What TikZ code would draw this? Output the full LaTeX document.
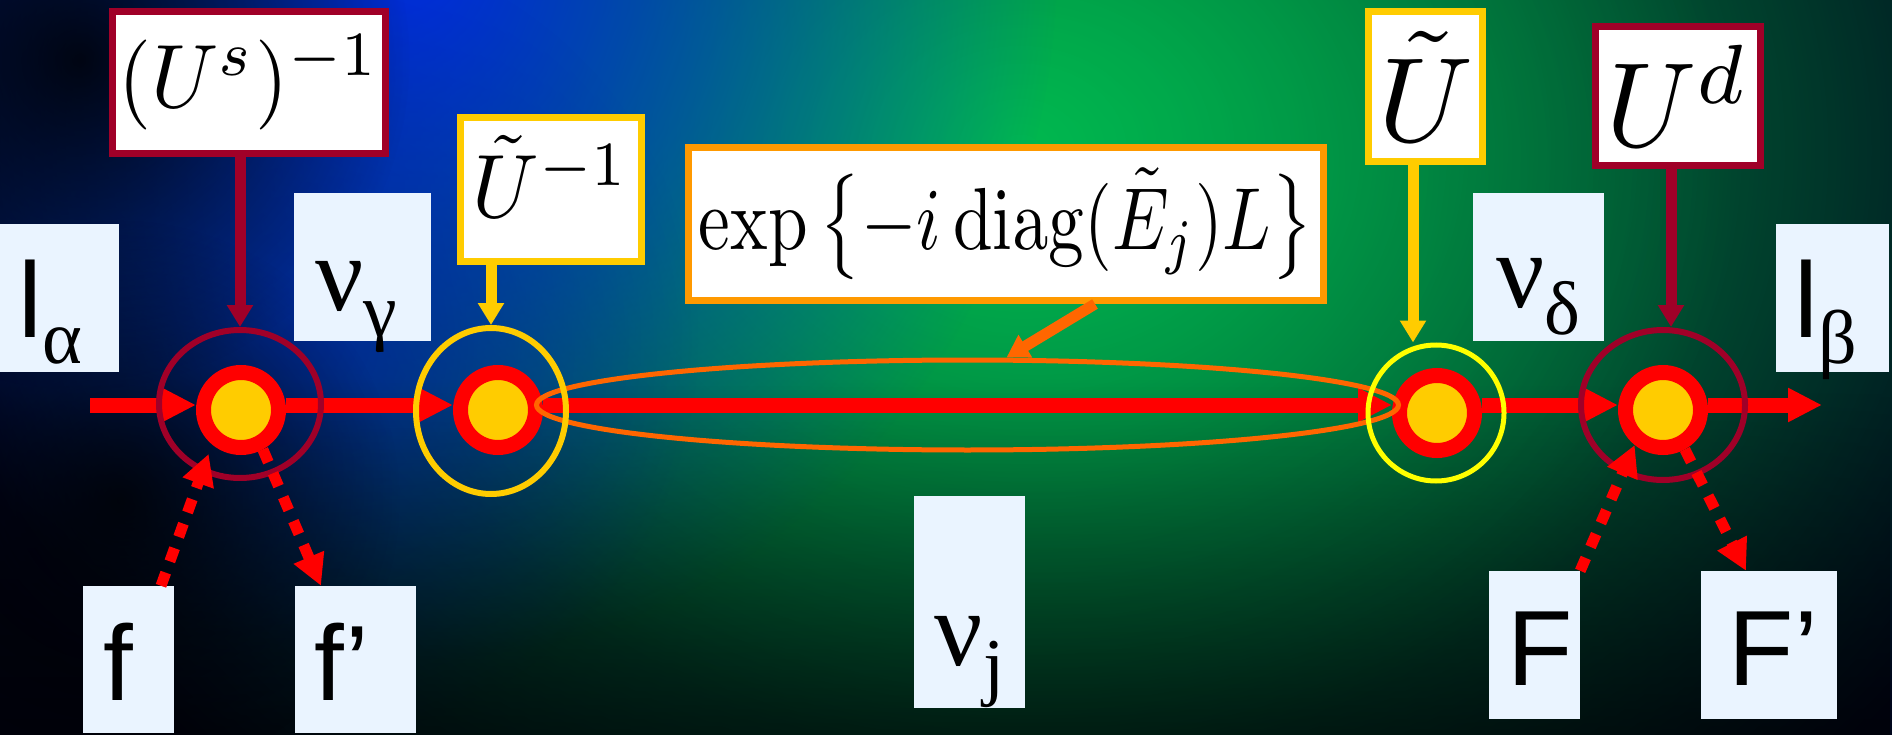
\documentclass[tikz,border=0pt]{standalone}
\usepackage[no-math]{fontspec}
\usepackage{graphicx}
\usepackage{tikz}
\usetikzlibrary{arrows.meta, shapes.geometric, positioning, fadings}

\newfontfamily\labsans{Liberation Sans}
\newfontfamily\labgreek{Liberation Serif}
\newcommand\lowsub[1]{\raisebox{-26pt}{\fontsize{76}{76}\selectfont\labgreek #1}}

\definecolor{wine}{RGB}{160,0,40}
\definecolor{amber}{RGB}{255,204,0}
\definecolor{lemon}{RGB}{255,255,0}
\definecolor{tangerine}{RGB}{255,153,0}
\definecolor{ember}{RGB}{255,102,0}
\definecolor{paleblue}{RGB}{234,244,255}
\definecolor{night}{RGB}{0,6,28}
\definecolor{glowblue}{RGB}{0,45,225}
\definecolor{deepblue}{RGB}{0,30,170}
\definecolor{glowgreen}{RGB}{0,185,80}

\tikzfading[name=glow, inner color=transparent!0, outer color=transparent!100]
\pgfdeclarelayer{backdrop}
\pgfdeclarelayer{beam}
\pgfsetlayers{backdrop,beam,main}

\begin{document}
\begin{tikzpicture}[x=1pt, y=-1pt,
    tag/.style={fill=paleblue, inner sep=0pt, font=\fontsize{107}{110}\selectfont},
    mbox/.style={rectangle, draw=#1, fill=white, line width=7pt, inner sep=0pt},
    hoop/.style={ellipse, draw=#1, line width=6pt, inner sep=0pt},
    dot/.style={circle, draw=red, fill=amber, line width=15pt, minimum size=75pt, inner sep=0pt},
    flow/.style={red, line width=15pt, -{Triangle[width=32pt,length=34pt]}},
    feed/.style={#1, line width=11pt, -{Triangle[width=25pt,length=22pt]}},
    side/.style={red, line width=11pt, dash pattern=on 14pt off 12pt, -{Triangle[width=31pt,length=31pt]}}
]
\useasboundingbox (0,0) rectangle (1892,735);

% Backdrop: dark field with green and blue glows
\begin{pgfonlayer}{backdrop}
\begin{scope}
\clip (0,0) rectangle (1892,735);
\fill[night] (0,0) rectangle (1892,735);
\fill[glowgreen, path fading=glow] (1020,150) ellipse [x radius=1100, y radius=900];
\fill[glowgreen, path fading=glow, opacity=0.5] (1040,170) ellipse [x radius=700, y radius=600];
\fill[glowblue, path fading=glow] (410,-40) ellipse [x radius=650, y radius=700];
\fill[deepblue, path fading=glow, opacity=0.5] (300,340) circle [radius=400];
\fill[black, path fading=north, opacity=0.6] (0,380) rectangle (1892,735);
\fill[black, path fading=glow, opacity=0.85] (80,60) circle [radius=330];
\fill[black, path fading=glow, opacity=0.8] (120,500) circle [radius=280];
\end{scope}
\end{pgfonlayer}

% Junctions on the beam
\node[dot] (d1) at (241,410) {};
\node[dot] (d2) at (498,410) {};
\node[dot] (d3) at (1437,413) {};
\node[dot] (d4) at (1663,410) {};

% Propagation region and the rings round the junctions
\node[ellipse, draw=ember, line width=5pt, inner sep=0pt, minimum width=862pt, minimum height=90pt] (el) at (967.5,405) {};
\node[hoop=wine, minimum width=162pt, minimum height=148pt] (h1) at (240,404) {};
\node[hoop=amber, minimum width=150pt, minimum height=166pt] (h2) at (491,411) {};
\node[hoop=lemon, line width=5pt, minimum width=136pt, minimum height=136pt] (h3) at (1436,413) {};
\node[hoop=wine, minimum width=164pt, minimum height=150pt] (h4) at (1663,405) {};

% Matrices in the top row
\node[mbox=wine, minimum width=273pt, minimum height=142pt] (us) at (249,82.5) {\scalebox{8.5}[9]{$(U^s)^{-1}$}};
\node[mbox=amber, minimum width=181pt, minimum height=144pt, text depth=26pt] (ui) at (551,189.5) {\scalebox{8.4}[9]{$\tilde{U}^{-1}$}};
\node[mbox=tangerine, minimum width=635pt, minimum height=153pt] (ex) at (1006,224) {\resizebox*{614pt}{112pt}{$\exp\,\bigl\{-i\,\mathrm{diag}(\tilde{E}_j)L\bigr\}$}};
\node[mbox=amber, minimum width=114pt, minimum height=150pt] (ut) at (1425.5,86.5) {\scalebox{12}{$\tilde{U}$}};
\node[mbox=wine, minimum width=165pt, minimum height=139pt] (ud) at (1678,96) {\scalebox{11.4}[12]{$U^d$}};

% Flavour labels
\node[tag, minimum width=119pt, text height=113pt, text depth=35pt] (la) at (59.5,298) {{\labsans l}\lowsub{α}\hspace{18pt}\null};
\node[tag, minimum width=137pt, text height=117pt, text depth=31pt] (ng) at (362.5,267) {{\labgreek ν}\lowsub{γ}\hspace{12pt}\null};
\node[tag, minimum width=131pt, text height=115pt, text depth=33pt] (nd) at (1538.5,267) {{\labgreek ν}\lowsub{δ}};
\node[tag, minimum width=113pt, text height=113pt, text depth=35pt] (lb) at (1832.5,298) {{\labsans l}\lowsub{β}\hspace{13pt}\null};
\node[tag, minimum width=111pt, text height=169pt, text depth=43pt] (nj) at (969.5,602) {{\labgreek ν}\lowsub{j}};
\node[tag, minimum width=91pt, text height=114pt, text depth=33pt] (f) at (128.5,659.5) {\labsans f\hspace{21pt}\null};
\node[tag, minimum width=121pt, text height=114pt, text depth=33pt] (fp) at (355.5,659.5) {\labsans f’\hspace{27pt}\null};
\node[tag, minimum width=91pt, text height=114pt, text depth=34pt] (F) at (1534.5,645) {\labsans\hspace{12pt}F};
\node[tag, minimum width=136pt, text height=114pt, text depth=34pt] (Fp) at (1769,645) {\labsans\hspace{9pt}F’};

% Beam through the junctions
\coordinate (src) at (90,405);
\coordinate (snk) at (1822,405);
\begin{pgfonlayer}{beam}
\draw[flow] (src) -- (src -| d1.west);
\draw[flow] (src -| d1.east) -- (src -| d2.west);
\draw[flow] (src -| d2.east) -- (src -| d3.west);
\draw[flow] (src -| d3.east) -- (src -| d4.west);
\draw[flow] (src -| d4.east) -- (snk);
\end{pgfonlayer}

% Matrices acting on the junctions
\draw[feed=wine] (us.south -| h1.north) -- (h1.north);
\draw[feed=amber] (ui.south -| h2.north) -- (h2.north);
\draw[feed=ember] ([xshift=89pt]ex.south) -- ([xshift=39pt]el.north);
\draw[feed=amber] ([xshift=-12.5pt]ut.south) -- ([xshift=-23pt]h3.north);
\draw[feed=wine] ([xshift=-7pt]ud.south) -- ([xshift=8pt]h4.north);

% Side channels
\draw[side, shorten >=10pt] ([xshift=32.5pt]f.north) -- (d1.230);
\draw[side] (d1.299) -- ([xshift=-34.5pt]fp.north);
\draw[side] (F.north east) -- (d4.231);
\draw[side] (d4.299) -- ([xshift=-23pt]Fp.north);
\end{tikzpicture}
\end{document}
